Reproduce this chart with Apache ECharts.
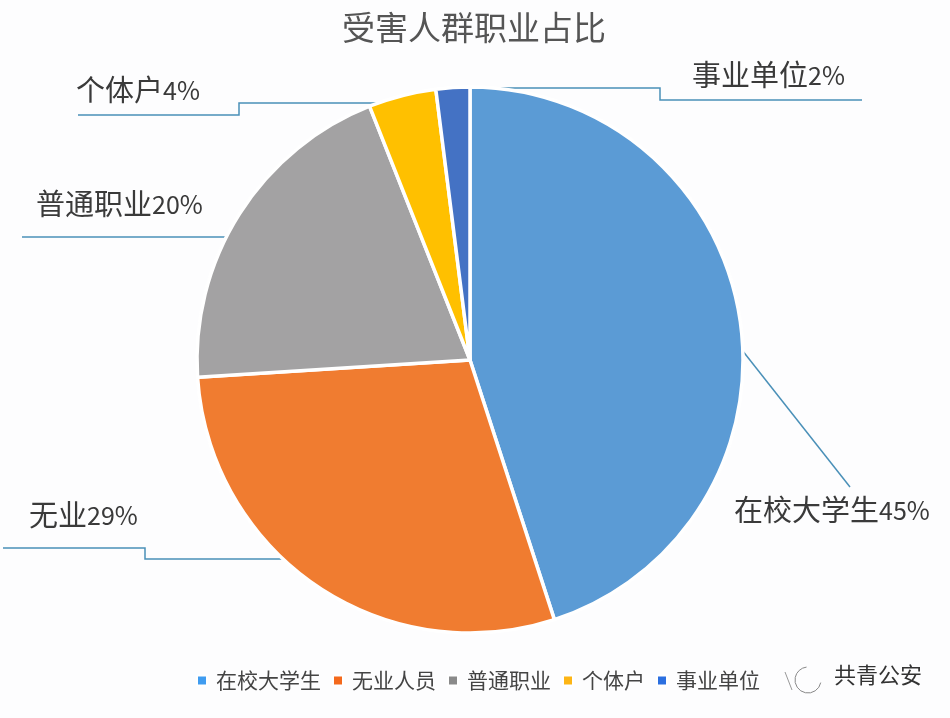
<!DOCTYPE html>
<html>
<head>
<meta charset="utf-8">
<script src="https://cdn.jsdelivr.net/npm/echarts@6/dist/echarts.min.js"></script>
<style>html,body{margin:0;padding:0;background:#fff}</style>
</head>
<body>
<div id="main" style="width:950px;height:718px"></div>
<script>
var categories = ['在校大学生', '无业人员', '普通职业', '个体户', '事业单位'];
var labelNames = ['在校大学生', '无业', '普通职业', '个体户', '事业单位'];
var values = [45, 29, 20, 4, 2];
var colors = ['#5b9bd5', '#f07c30', '#a3a2a3', '#ffc000', '#4472c4'];
var legendColors = ['#3f9cf0', '#f4691c', '#8a8a8a', '#fdb515', '#2b6fe0'];
var leaderColor = '#4a90b8';
var textColor = '#3a3a3a';
var font = '"Noto Sans CJK SC", sans-serif';

// where each label sits and how its leader line runs
var labelPlace = [
    {x: 734, y: 510, line: [[742, 350], [850, 487], [850, 487]]},
    {x: 29, y: 515, line: [[285, 559], [145, 559], [145, 548], [3, 548]]},
    {x: 36, y: 204, line: [[230, 237], [22, 237]]},
    {x: 76, y: 90, line: [[390, 103], [239, 103], [239, 115], [78, 115]]},
    {x: 692, y: 75, line: [[472, 88], [660, 88], [660, 100], [862, 100]]}
];

var pieData = values.map(function (v, i) {
    return {
        name: categories[i],
        value: v,
        label: {formatter: '{c|' + labelNames[i] + '}{n|' + v + '%}'}
    };
});

var legendData = categories.map(function (c, i) {
    return {name: c, itemStyle: {color: legendColors[i]}};
});

var myChart = echarts.init(document.getElementById('main'));
myChart.setOption({
    backgroundColor: '#fdfdfe',
    color: colors,
    animation: false,
    title: {
        text: '受害人群职业占比',
        left: 469,
        top: 6,
        textAlign: 'center',
        textStyle: {color: '#555', fontSize: 33, fontWeight: 'normal', fontFamily: font}
    },
    legend: {
        left: 191,
        top: 665,
        itemWidth: 10,
        itemHeight: 10,
        itemGap: 11,
        icon: 'rect',
        textStyle: {color: '#444', fontSize: 21, fontFamily: font, padding: [0, 0, 0, 4]},
        data: legendData
    },
    graphic: [{
        type: 'text',
        left: 834,
        top: 664,
        style: {text: '共青公安', fill: '#333', font: '22px "Noto Sans CJK SC"'}
    }, {
        type: 'arc',
        shape: {cx: 808, cy: 680, r: 13, startAngle: 0.2, endAngle: 4.6},
        style: {stroke: '#888', fill: null, lineWidth: 1}
    }, {
        type: 'line',
        shape: {x1: 785, y1: 672, x2: 792, y2: 690},
        style: {stroke: '#999', lineWidth: 1}
    }],
    series: [{
        type: 'pie',
        center: [470, 360],
        radius: [0, 273],
        startAngle: 90,
        clockwise: true,
        itemStyle: {borderColor: '#fff', borderWidth: 3.5},
        label: {
            overflow: 'none',
            rich: {
                c: {color: textColor, fontSize: 29, fontFamily: font},
                n: {color: textColor, fontSize: 25, fontFamily: font}
            }
        },
        labelLine: {lineStyle: {color: leaderColor, width: 1.5}},
        labelLayout: function (params) {
            var p = labelPlace[params.dataIndex];
            return {
                x: p.x,
                y: p.y,
                align: 'left',
                verticalAlign: 'middle',
                labelLinePoints: p.line
            };
        },
        data: pieData
    }]
});
</script>
</body>
</html>
